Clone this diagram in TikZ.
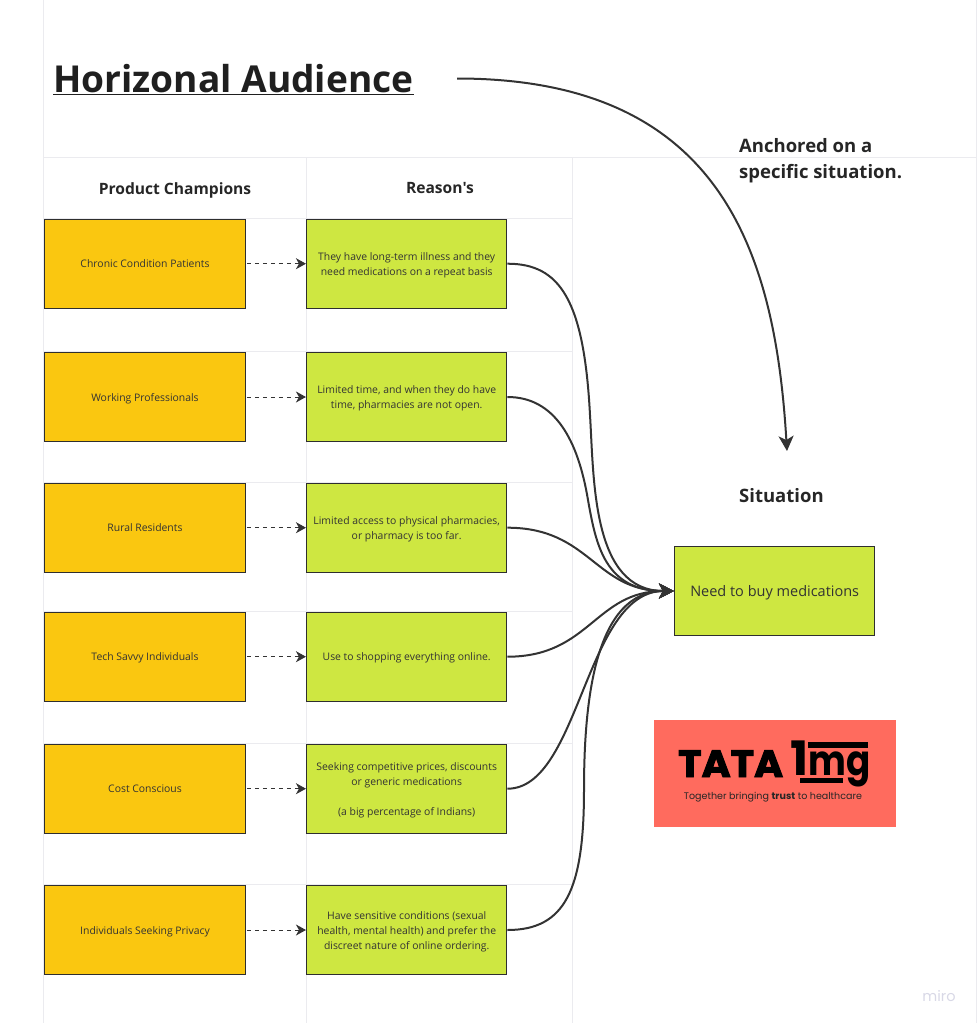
\documentclass[tikz,border=0pt]{standalone}
\usepackage{fontspec}
\setmainfont{Open Sans}
\newfontfamily\plainos{Open Sans}
\newfontfamily\popp{Poppins}
\newfontfamily\poppheavy[BoldFeatures={FakeBold=2.5}]{Poppins}
\usetikzlibrary{arrows.meta}
\newcommand\cardtext[1]{\raisebox{-0.36em}[0pt][0pt]{\begin{tabular}{@{}c@{}}#1\end{tabular}}}
\definecolor{inkc}{HTML}{333333}
\definecolor{gridc}{HTML}{EBEBEF}
\definecolor{orangec}{HTML}{FAC710}
\definecolor{greenc}{HTML}{CEE741}
\definecolor{logoc}{HTML}{FF6B5E}
\definecolor{miroc}{HTML}{D8D8E6}
\tikzset{
  gridline/.style={draw=gridc,line width=1pt},
  cardbox/.style={draw=inkc!90!black,line width=1pt,minimum width=200.5pt,minimum height=89pt,inner sep=0pt,text=inkc,font=\fontsize{10.4}{15}\selectfont},
  champ/.style={cardbox,fill=orangec},
  reason/.style={cardbox,fill=greenc},
  head/.style={font=\bfseries\fontsize{15.6}{20}\selectfont,text=black!85,inner sep=0pt},
  note/.style={font=\bfseries\fontsize{18.5}{26}\selectfont,text=black!85,inner sep=0pt,align=left},
  dasharrow/.style={draw=inkc,line width=1pt,dash pattern=on 4pt off 4pt,-{Stealth[length=10pt,width=11pt,inset=3pt]}},
  curvearrow/.style={draw=inkc,line width=2pt,-{Stealth[length=15pt,width=15pt,inset=4pt]}},
}
\begin{document}
\begin{tikzpicture}[x=1pt,y=-1pt]
\useasboundingbox (0,0) rectangle (977,1023);
% grid
\draw[gridline] (43.5,0) -- (43.5,1023);
\draw[gridline] (306.5,157.5) -- (306.5,1023);
\draw[gridline] (572.5,157.5) -- (572.5,1023);
\draw[gridline] (976.5,0) -- (976.5,1023);
\draw[gridline] (43.5,157.5) -- (977,157.5);
\foreach \yy in {218.5,351.5,482.5,611.5,743.5,884.5}
  \draw[gridline] (43.5,\yy) -- (572.5,\yy);
% title
\node[anchor=west,inner sep=0pt,text=black!88,font=\bfseries\fontsize{37.1}{40}\selectfont] (title) at (53,80) {\underline{Horizonal Audience}};
\node[head] (hchamp) at (175,190.5) {Product Champions};
\node[head] (hreason) at (440,188.5) {\plainos\bfseries Reason's};
\node[note,anchor=north west] (anchored) at (739,138) {Anchored on a\\specific situation.};
\node[note,anchor=west] (situationlabel) at (739,496) {Situation};
% cards
\node[champ] (c1) at (145,263.7) {\cardtext{Chronic Condition Patients}};
\node[champ] (c2) at (145,397) {\cardtext{Working Professionals}};
\node[champ] (c3) at (145,527.7) {\cardtext{Rural Residents}};
\node[champ] (c4) at (145,656.7) {\cardtext{Tech Savvy Individuals}};
\node[champ] (c5) at (145,788.7) {\cardtext{Cost Conscious}};
\node[champ] (c6) at (145,930) {\cardtext{Individuals Seeking Privacy}};
\node[reason] (r1) at (406.7,263.7) {\cardtext{They have long-term illness and they\\need medications on a repeat basis}};
\node[reason] (r2) at (406.7,397) {\cardtext{Limited time, and when they do have\\time, pharmacies are not open.}};
\node[reason] (r3) at (406.7,527.7) {\cardtext{Limited access to physical pharmacies,\\or pharmacy is too far.}};
\node[reason] (r4) at (406.7,656.7) {\cardtext{Use to shopping everything online.}};
\node[reason] (r5) at (406.7,788.7) {\cardtext{Seeking competitive prices, discounts\\or generic medications\\ \\(a big percentage of Indians)}};
\node[reason] (r6) at (406.7,930) {\cardtext{Have sensitive conditions (sexual\\health, mental health) and prefer the\\discreet nature of online ordering.}};
\node[reason,font=\fontsize{14.5}{18}\selectfont] (need) at (774.7,591) {\cardtext{Need to buy medications}};
% dashed connectors
\foreach \i in {1,...,6}
  \draw[dasharrow] ([xshift=1pt]c\i.east) -- (r\i.west);
% curves
\draw[curvearrow] (r1.east) .. controls (560,263.7) and (584,300) .. (590,415) .. controls (594,480) and (592,591) .. (need.west);
\draw[curvearrow] (r2.east) .. controls (555,397) and (578,440) .. (588,500) .. controls (596,545) and (605,591) .. (need.west);
\draw[curvearrow] (r3.east) .. controls (590,527.7) and (595,591) .. (need.west);
\draw[curvearrow] (r4.east) .. controls (590,656.7) and (595,591) .. (need.west);
\draw[curvearrow] (r5.east) .. controls (580,788.7) and (585,591) .. (need.west);
\draw[curvearrow] (r6.east) .. controls (565,930) and (584,890) .. (584,790) .. controls (584,700) and (595,591) .. (need.west);
\coordinate (titleend) at (457,78.5);
\coordinate (sittop) at (787,451);
\draw[curvearrow] (titleend) .. controls (720,78.5) and (775,250) .. (sittop);
% logo
\node[fill=logoc,minimum width=242pt,minimum height=107pt,inner sep=0pt] (logo) at (775,773.5) {};
\node[anchor=base west,inner sep=0pt,text=black,font=\poppheavy\bfseries\fontsize{38}{38}\selectfont,xscale=1.04,transform shape] (tata) at (678,777) {TATA};
\node[anchor=base west,inner sep=0pt,text=black,font=\popp\bfseries\fontsize{42}{42}\selectfont,xscale=0.85,transform shape] (onemg) at (790,775) {\scalebox{1.35}[1.13]{1}mg};
\fill[black] (808,742) rectangle (868,748);
\fill[black] (800,777.5) rectangle (843,783);
\node[inner sep=0pt,text=black!85,font=\popp\fontsize{9.55}{12}\selectfont] (tagline) at (773,797) {Together bringing \textbf{trust} to healthcare};
\node[inner sep=0pt,text=miroc,font=\popp\fontsize{14.5}{14}\selectfont] (miro) at (939,996) {miro};
\end{tikzpicture}
\end{document}
